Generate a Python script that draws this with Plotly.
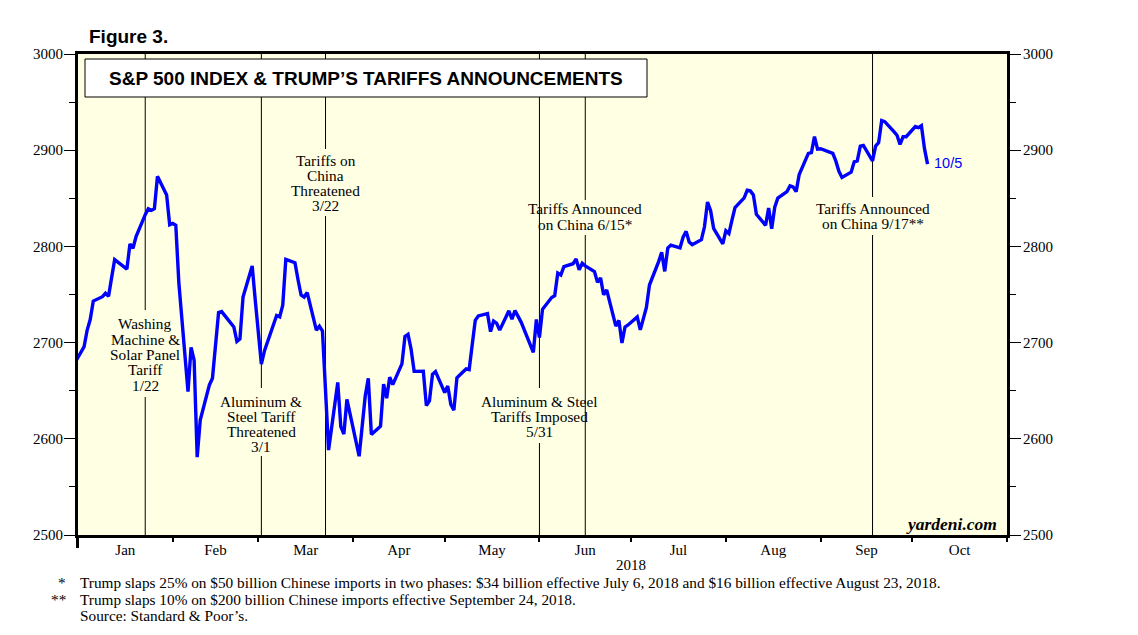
import plotly.graph_objects as go
import pandas as pd

# ---------------- data ----------------
dates = [
    "2017-12-29",
    "2018-01-02", "2018-01-03", "2018-01-04", "2018-01-05", "2018-01-08", "2018-01-09", "2018-01-10",
    "2018-01-11", "2018-01-12", "2018-01-16", "2018-01-17", "2018-01-18", "2018-01-19", "2018-01-22",
    "2018-01-23", "2018-01-24", "2018-01-25", "2018-01-26", "2018-01-29", "2018-01-30", "2018-01-31",
    "2018-02-01", "2018-02-02", "2018-02-05", "2018-02-06", "2018-02-07", "2018-02-08", "2018-02-09",
    "2018-02-12", "2018-02-13", "2018-02-14", "2018-02-15", "2018-02-16", "2018-02-20", "2018-02-21",
    "2018-02-22", "2018-02-23", "2018-02-26", "2018-02-27", "2018-02-28", "2018-03-01", "2018-03-02",
    "2018-03-05", "2018-03-06", "2018-03-07", "2018-03-08", "2018-03-09", "2018-03-12", "2018-03-13",
    "2018-03-14", "2018-03-15", "2018-03-16", "2018-03-19", "2018-03-20", "2018-03-21", "2018-03-22",
    "2018-03-23", "2018-03-26", "2018-03-27", "2018-03-28", "2018-03-29", "2018-04-02", "2018-04-03",
    "2018-04-04", "2018-04-05", "2018-04-06", "2018-04-09", "2018-04-10", "2018-04-11", "2018-04-12",
    "2018-04-13", "2018-04-16", "2018-04-17", "2018-04-18", "2018-04-19", "2018-04-20", "2018-04-23",
    "2018-04-24", "2018-04-25", "2018-04-26", "2018-04-27", "2018-04-30", "2018-05-01", "2018-05-02",
    "2018-05-03", "2018-05-04", "2018-05-07", "2018-05-08", "2018-05-09", "2018-05-10", "2018-05-11",
    "2018-05-14", "2018-05-15", "2018-05-16", "2018-05-17", "2018-05-18", "2018-05-21", "2018-05-22",
    "2018-05-23", "2018-05-24", "2018-05-25", "2018-05-29", "2018-05-30", "2018-05-31", "2018-06-01",
    "2018-06-04", "2018-06-05", "2018-06-06", "2018-06-07", "2018-06-08", "2018-06-11", "2018-06-12",
    "2018-06-13", "2018-06-14", "2018-06-15", "2018-06-18", "2018-06-19", "2018-06-20", "2018-06-21",
    "2018-06-22", "2018-06-25", "2018-06-26", "2018-06-27", "2018-06-28", "2018-06-29", "2018-07-02",
    "2018-07-03", "2018-07-05", "2018-07-06", "2018-07-09", "2018-07-10", "2018-07-11", "2018-07-12",
    "2018-07-13", "2018-07-16", "2018-07-17", "2018-07-18", "2018-07-19", "2018-07-20", "2018-07-23",
    "2018-07-24", "2018-07-25", "2018-07-26", "2018-07-27", "2018-07-30", "2018-07-31", "2018-08-01",
    "2018-08-02", "2018-08-03", "2018-08-06", "2018-08-07", "2018-08-08", "2018-08-09", "2018-08-10",
    "2018-08-13", "2018-08-14", "2018-08-15", "2018-08-16", "2018-08-17", "2018-08-20", "2018-08-21",
    "2018-08-22", "2018-08-23", "2018-08-24", "2018-08-27", "2018-08-28", "2018-08-29", "2018-08-30",
    "2018-08-31", "2018-09-04", "2018-09-05", "2018-09-06", "2018-09-07", "2018-09-10", "2018-09-11",
    "2018-09-12", "2018-09-13", "2018-09-14", "2018-09-17", "2018-09-18", "2018-09-19", "2018-09-20",
    "2018-09-21", "2018-09-24", "2018-09-25", "2018-09-26", "2018-09-27", "2018-09-28", "2018-10-01",
    "2018-10-02", "2018-10-03", "2018-10-04", "2018-10-05",
]
sp500 = [
    2673.61,
    2695.81, 2713.06, 2723.99, 2743.15, 2747.71, 2751.29, 2748.23,
    2767.56, 2786.24, 2776.42, 2802.56, 2798.03, 2810.30, 2832.97,
    2839.13, 2837.54, 2839.25, 2872.87, 2853.53, 2822.43, 2823.81,
    2821.98, 2762.13, 2648.94, 2695.14, 2681.66, 2581.00, 2619.55,
    2656.00, 2662.94, 2698.63, 2731.20, 2732.22, 2716.26, 2701.33,
    2703.96, 2747.30, 2779.60, 2744.28, 2713.83, 2677.67, 2691.25,
    2720.94, 2728.12, 2726.80, 2738.97, 2786.57, 2783.02, 2765.31,
    2749.48, 2747.33, 2752.01, 2712.92, 2716.94, 2711.93, 2643.69,
    2588.26, 2658.55, 2612.62, 2605.00, 2640.87, 2581.88, 2614.45,
    2644.69, 2662.84, 2604.47, 2613.16, 2656.87, 2642.19, 2663.99,
    2656.30, 2677.84, 2706.39, 2708.64, 2693.13, 2670.14, 2670.29,
    2634.56, 2639.40, 2666.94, 2669.91, 2648.05, 2654.80, 2635.67,
    2629.73, 2663.42, 2672.63, 2671.92, 2697.79, 2723.07, 2727.72,
    2730.13, 2711.45, 2722.46, 2720.13, 2712.97, 2733.01, 2724.44,
    2733.29, 2727.76, 2721.33, 2689.86, 2724.01, 2705.27, 2734.62,
    2746.87, 2748.80, 2772.35, 2770.37, 2779.03, 2782.00, 2786.85,
    2775.63, 2782.49, 2779.66, 2773.75, 2762.59, 2767.32, 2749.76,
    2754.88, 2717.07, 2723.06, 2699.63, 2716.31, 2718.37, 2726.71,
    2713.22, 2736.61, 2759.82, 2784.17, 2793.84, 2774.02, 2798.29,
    2801.31, 2798.43, 2809.55, 2815.62, 2804.49, 2801.83, 2806.98,
    2820.40, 2846.07, 2837.44, 2818.82, 2802.60, 2816.29, 2813.36,
    2827.22, 2840.35, 2850.40, 2858.45, 2857.70, 2853.58, 2833.28,
    2821.93, 2839.96, 2818.37, 2840.69, 2850.13, 2857.05, 2862.96,
    2861.82, 2856.98, 2874.69, 2896.74, 2897.52, 2914.04, 2901.13,
    2901.52, 2896.72, 2888.60, 2878.05, 2871.68, 2877.13, 2887.89,
    2888.92, 2904.18, 2904.98, 2888.80, 2904.31, 2907.95, 2930.75,
    2929.67, 2919.37, 2915.56, 2905.97, 2914.00, 2913.98, 2924.59,
    2923.43, 2925.51, 2901.61, 2885.57,
]

event_dates = ["2018-01-22", "2018-03-01", "2018-03-22", "2018-05-31", "2018-06-15", "2018-09-17"]
event_labels = [
    ["Washing", "Machine &", "Solar Panel", "Tariff", "1/22"],
    ["Aluminum &", "Steel Tariff", "Threatened", "3/1"],
    ["Tariffs on", "China", "Threatened", "3/22"],
    ["Aluminum & Steel", "Tariffs Imposed", "5/31"],
    ["Tariffs Announced", "on China 6/15*"],
    ["Tariffs Announced", "on China 9/17**"],
]
last_label = "10/5"
title_text = "S&P 500 INDEX & TRUMP\u2019S TARIFFS ANNOUNCEMENTS"
footnote_marks = ["*", "**", ""]
footnotes = [
    "Trump slaps 25% on $50 billion Chinese imports in two phases: $34 billion effective July 6, 2018 and $16 billion effective August 23, 2018.",
    "Trump slaps 10% on $200 billion Chinese imports effective September 24, 2018.",
    "Source: Standard & Poor\u2019s.",
]

# ---------------- layout helpers ----------------
SCREEN_W, SCREEN_H = 1138, 635
OFF = 8                      # page body margin in the browser
W, H = SCREEN_W - OFF, SCREEN_H - OFF
L, R, T, B = 78, 1007, 54, 535   # plot area in screen pixels
SERIF = "Liberation Serif"
SANS = "Liberation Sans"
BG = "#FFFFE4"
BLUE = "#0000FF"

def py(ypx):
    return (B - ypx) / (B - T)

def px(xpx):
    return (xpx - L) / (R - L)

one_day = pd.Timedelta(days=1)
x_vals = pd.to_datetime(dates) + one_day       # close plotted at end of day
ev_x = pd.to_datetime(event_dates) + one_day

# text block placement for each event (first line y in px, gap in vertical line)
ev_text_y0 = [324, 401, 160, 401, 209, 208]
ev_gap = [(310, 397), (388, 456), (149, 216), (388, 443), (200, 235), (197, 235)]
LINE_SP = 15.3

fig = go.Figure()
fig.add_trace(go.Scatter(x=x_vals, y=sp500, mode="lines",
                         line=dict(color=BLUE, width=3.4), hoverinfo="x+y",
                         showlegend=False, yaxis="y"))
fig.add_trace(go.Scatter(x=x_vals, y=sp500, mode="lines",
                         line=dict(color=BLUE, width=0), opacity=0, hoverinfo="skip",
                         showlegend=False, yaxis="y2"))

shapes = []
annotations = []

for xd, (g0, g1) in zip(ev_x, ev_gap):
    shapes.append(dict(type="line", xref="x", yref="paper", x0=xd, x1=xd,
                       y0=1, y1=py(g0), line=dict(color="black", width=1), layer="below"))
    shapes.append(dict(type="line", xref="x", yref="paper", x0=xd, x1=xd,
                       y0=py(g1), y1=0, line=dict(color="black", width=1), layer="below"))

for xd, lines, y0 in zip(ev_x, event_labels, ev_text_y0):
    for i, t in enumerate(lines):
        annotations.append(dict(x=xd, xref="x", y=py(y0 + i * LINE_SP), yref="paper",
                                text=t, showarrow=False, xanchor="center", yanchor="middle",
                                font=dict(family=SERIF, size=15.3, color="black")))

shapes.append(dict(type="rect", xref="paper", yref="paper", x0=px(85), x1=px(647),
                   y0=py(97), y1=py(59), fillcolor="white",
                   line=dict(color="black", width=1), layer="below"))
annotations.append(dict(x=px(366), y=py(78.5), xref="paper", yref="paper", text="<b>" + title_text + "</b>",
                        showarrow=False, xanchor="center", yanchor="middle",
                        font=dict(family=SANS, size=19, color="black")))

shapes.append(dict(type="line", xref="paper", yref="paper", x0=px(77.5), x1=px(77.5),
                   y0=0, y1=py(548), line=dict(color="black", width=3)))

annotations.append(dict(x=px(87), y=py(36), xref="paper", yref="paper", text="<b>Figure 3.</b>",
                        showarrow=False, xanchor="left", yanchor="middle",
                        font=dict(family=SANS, size=19, color="black")))

annotations.append(dict(x=x_vals[-1], y=sp500[-1], xref="x", yref="y", text=last_label,
                        showarrow=False, xanchor="left", yanchor="middle", xshift=4, yshift=1,
                        font=dict(family=SANS, size=14.5, color=BLUE)))

annotations.append(dict(x=px(999), y=py(524), xref="paper", yref="paper",
                        text="<b><i>yardeni.com</i></b>", showarrow=False,
                        xanchor="right", yanchor="middle",
                        font=dict(family=SERIF, size=17.5, color="black")))

annotations.append(dict(x="2018-07-01", xref="x", y=py(565), yref="paper", text="2018",
                        showarrow=False, xanchor="center", yanchor="middle",
                        font=dict(family=SERIF, size=15, color="black")))

foot_y = [582, 599, 615]
for m, t, yy in zip(footnote_marks, footnotes, foot_y):
    if m:
        annotations.append(dict(x=px(68), y=py(yy), xref="paper", yref="paper", text=m,
                                showarrow=False, xanchor="right", yanchor="middle",
                                font=dict(family=SERIF, size=15.3, color="black")))
    annotations.append(dict(x=px(78), y=py(yy), xref="paper", yref="paper", text=t,
                            showarrow=False, xanchor="left", yanchor="middle",
                            font=dict(family=SERIF, size=15.3, color="black")))

yaxis_common = dict(range=[2500, 3000], dtick=100, tick0=2500, ticks="outside", ticklen=11,
                    tickwidth=1, tickcolor="black", showgrid=False, zeroline=False,
                    showline=True, linecolor="black", linewidth=3,
                    tickfont=dict(family=SERIF, size=15, color="black"),
                    minor=dict(dtick=50, tick0=2500, ticks="outside", ticklen=6,
                               tickwidth=1, tickcolor="black", showgrid=False),
                    fixedrange=True)

fig.update_layout(
    width=W, height=H,
    margin=dict(l=L - OFF, r=W - (R - OFF), t=T - OFF, b=H - (B - OFF), pad=0),
    paper_bgcolor="white", plot_bgcolor=BG,
    showlegend=False,
    xaxis=dict(range=["2018-01-01", "2018-11-01"], type="date",
               dtick="M1", tick0="2018-01-01", tickformat="%b", ticklabelmode="period",
               ticks="outside", ticklen=4, tickwidth=1.5, tickcolor="black",
               ticklabelstandoff=-5,
               showgrid=False, zeroline=False,
               showline=True, linecolor="black", linewidth=3, mirror=True,
               tickfont=dict(family=SERIF, size=15, color="black")),
    yaxis=dict(side="left", ticklabelstandoff=-2, **yaxis_common),
    yaxis2=dict(side="right", overlaying="y", ticklabelstandoff=-1, **yaxis_common),
    shapes=shapes,
    annotations=annotations,
)

fig.write_html("out.html")
